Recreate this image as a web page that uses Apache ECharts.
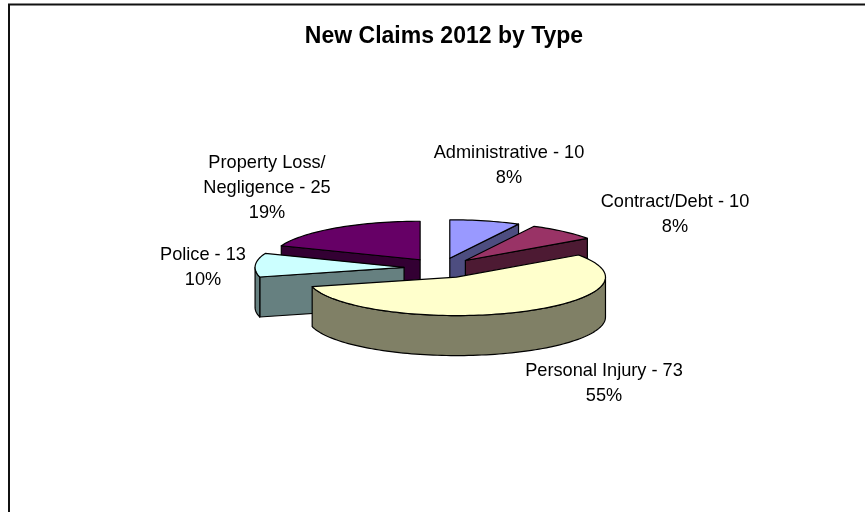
<!DOCTYPE html>
<html>
<head>
<meta charset="utf-8">
<title>New Claims 2012 by Type</title>
<style>
	html, body { margin: 0; padding: 0; background: #fff; }
	#chart { width: 865px; height: 512px; }
</style>
<script src="https://cdn.jsdelivr.net/npm/echarts@6/dist/echarts.min.js"></script>
</head>
<body>
<div id="chart"></div>
<script>
const chartTitle = "New Claims 2012 by Type"
const categories = ["Administrative", "Contract/Debt", "Personal Injury", "Police", "Property Loss/\nNegligence"]
const claimCounts = [10, 10, 73, 13, 25]
const percentLabels = ["8%", "8%", "55%", "10%", "19%"]
const topColors = ["#9999FF", "#993366", "#FFFFCC", "#CCFFFF", "#660066"]
const sideColors = ["#4D4D80", "#4D1A33", "#808066", "#668080", "#330033"]
// back to front, so the nearer slices cover the walls behind them
const drawOrder = [4, 0, 1, 3, 2]
const labelCenters = [[509, 165], [675, 214], [604, 383], [203, 267], [267, 188]]

const pie = { cx: 441, cy: 268, rx: 149, ry: 38.5, depth: 40, explodeX: 37, explodeY: 10 }
const font = '18.2px "Liberation Sans", Arial, sans-serif'

const total = claimCounts.reduce((a, b) => a + b, 0)
const toAngle = v => (v / total) * Math.PI * 2
const startAngles = claimCounts.map((_, i) => toAngle(claimCounts.slice(0, i).reduce((a, b) => a + b, 0)))

const arcPoints = (cx, cy, from, to) => {
	const steps = Math.max(2, Math.ceil((to - from) / 0.03))
	const points = []
	for (let s = 0; s <= steps; s++) {
		const a = from + ((to - from) * s) / steps
		points.push([cx + pie.rx * Math.sin(a), cy - pie.ry * Math.cos(a)])
	}
	return points
}

const polygon = (points, fill) => ({
	type: "polygon",
	shape: { points },
	style: { fill, stroke: "#000", lineWidth: 1.2, lineJoin: "round" },
})

const wall = (points, fill) => polygon(points.concat(points.slice().reverse().map(p => [p[0], p[1] + pie.depth])), fill)

const renderSlice = (params, api) => {
	const i = api.value(0)
	const start = startAngles[i]
	const end = start + toAngle(api.value(1))
	const mid = (start + end) / 2
	const cx = pie.cx + pie.explodeX * Math.sin(mid)
	const cy = pie.cy - pie.explodeY * Math.cos(mid)
	const rim = arcPoints(cx, cy, start, end)
	const children = []

	// cut faces only show when the slice top lies above them on screen
	if (Math.sin(start) < 0) children.push(wall([[cx, cy], rim[0]], sideColors[i]))
	if (Math.sin(end) > 0) children.push(wall([[cx, cy], rim[rim.length - 1]], sideColors[i]))

	// outer wall, front half of the ellipse only
	const frontFrom = Math.max(start, Math.PI / 2)
	const frontTo = Math.min(end, (Math.PI * 3) / 2)
	if (frontFrom < frontTo) children.push(wall(arcPoints(cx, cy, frontFrom, frontTo), sideColors[i]))

	children.push(polygon([[cx, cy]].concat(rim), topColors[i]))
	return { type: "group", children }
}

const renderLabel = (params, api) => {
	const i = api.value(0)
	return {
		type: "text",
		z2: 10,
		style: {
			text: `${categories[i]} - ${api.value(1)}\n${percentLabels[i]}`,
			x: labelCenters[i][0],
			y: labelCenters[i][1],
			align: "center",
			verticalAlign: "middle",
			font,
			lineHeight: 25,
			fill: "#000",
		},
	}
}

const chart = echarts.init(document.querySelector("#chart"), null, { renderer: "canvas" })
chart.setOption({
	backgroundColor: "#fff",
	animation: false,
	title: {
		text: chartTitle,
		left: 439,
		top: 20,
		textAlign: "center",
		textStyle: { fontFamily: "Liberation Sans", fontSize: 23, fontWeight: "bold", color: "#000" },
	},
	graphic: [
		{
			type: "polyline",
			shape: { points: [[9, 512], [9, 4.5], [865, 4.5]] },
			style: { stroke: "#111", lineWidth: 2, fill: null },
		},
	],
	series: [
		{
			type: "custom",
			coordinateSystem: "none",
			renderItem: renderSlice,
			data: drawOrder.map(i => [i, claimCounts[i]]),
			silent: true,
		},
		{
			type: "custom",
			coordinateSystem: "none",
			renderItem: renderLabel,
			data: claimCounts.map((v, i) => [i, v]),
			silent: true,
		},
	],
})
</script>
</body>
</html>
